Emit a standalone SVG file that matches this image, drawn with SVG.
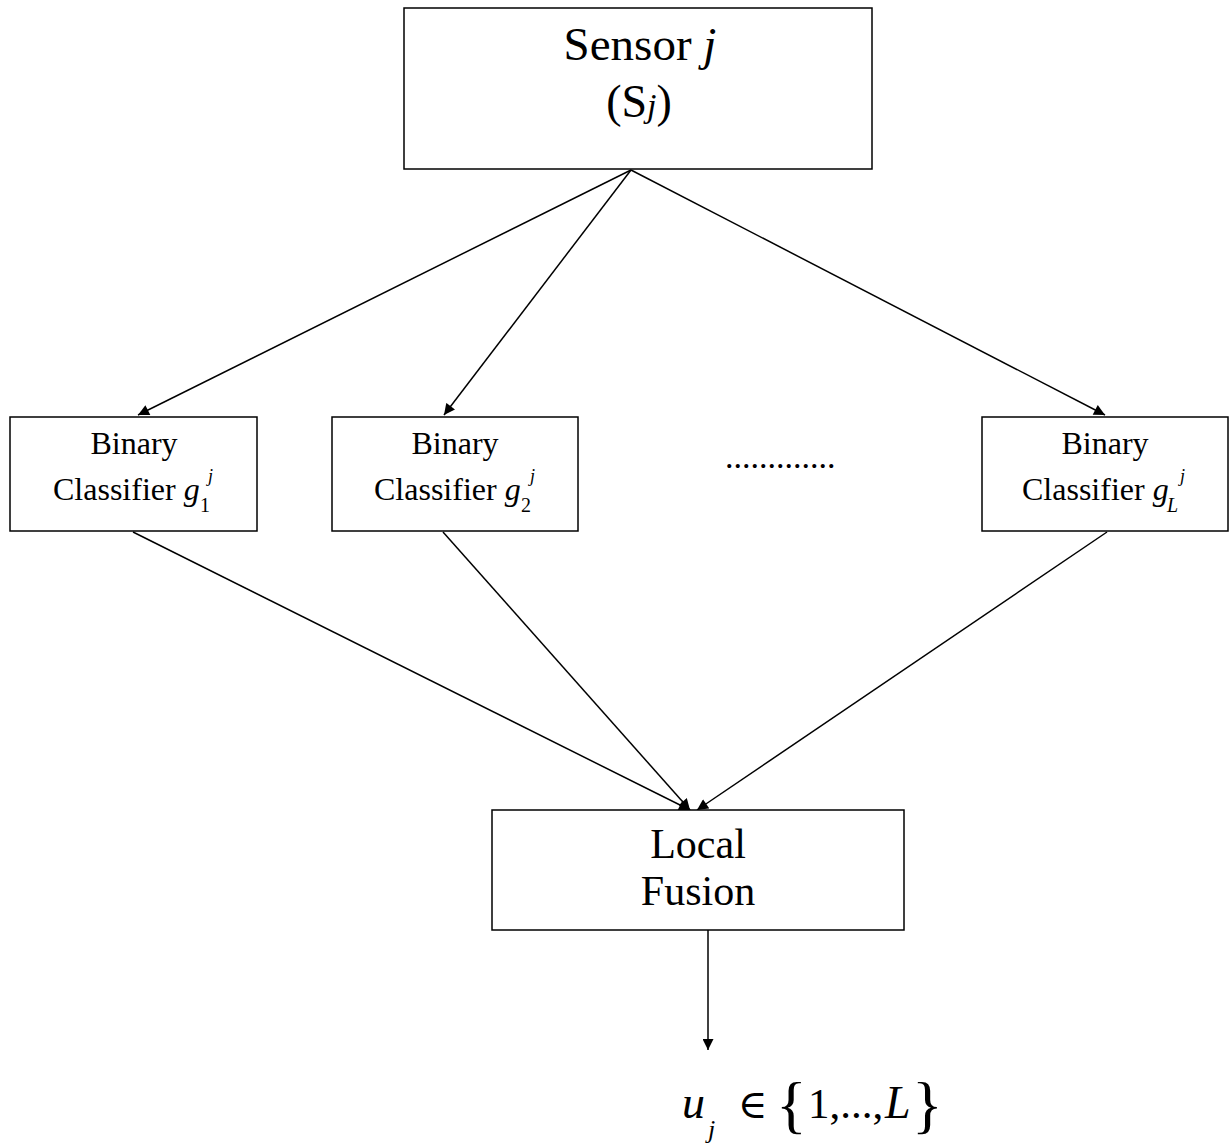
<svg xmlns="http://www.w3.org/2000/svg" width="1232" height="1147" viewBox="0 0 1232 1147">
<style>
.box{fill:#fff;stroke:#000;stroke-width:1.5}
.t{font-family:"Liberation Serif","Times New Roman","DejaVu Serif",serif;fill:#000}
.c{stroke:#000;stroke-width:1.5;fill:none;marker-end:url(#ah)}
</style>
<defs>
<marker id="ah" viewBox="0 0 10 10" refX="10" refY="5" markerWidth="12" markerHeight="11" markerUnits="userSpaceOnUse" orient="auto">
<path d="M0,0 L10,5 L0,10 z" fill="#000"/>
</marker>
</defs>
<rect width="1232" height="1147" fill="#fff"/>
<g id="connectors">
<line class="c" x1="631" y1="170" x2="138" y2="415"/>
<line class="c" x1="631" y1="170" x2="444" y2="415"/>
<line class="c" x1="631" y1="170" x2="1105" y2="415"/>
<line class="c" x1="133" y1="532" x2="690" y2="810"/>
<line class="c" x1="443" y1="532" x2="690" y2="810"/>
<line class="c" x1="1107" y1="532" x2="697" y2="810"/>
<line class="c" x1="708" y1="930" x2="708" y2="1050"/>
</g>
<g id="sensor">
<rect class="box" x="404" y="8" width="468" height="161"/>
<text class="t" x="640" y="60" font-size="47" text-anchor="middle">Sensor <tspan font-style="italic">j</tspan></text>
<text class="t" x="639" y="117" font-size="46" text-anchor="middle">(S<tspan font-style="italic" font-size="34">j</tspan>)</text>
</g>
<g id="classifier1">
<rect class="box" x="10" y="417" width="247" height="114"/>
<text class="t" x="134" y="454" font-size="32" text-anchor="middle">Binary</text>
<text class="t" x="53" y="500" font-size="32">Classifier <tspan font-style="italic">g</tspan></text>
<text class="t" x="200" y="512" font-size="20">1</text>
<text class="t" x="208" y="482" font-size="18" font-style="italic">j</text>
</g>
<g id="classifier2">
<rect class="box" x="332" y="417" width="246" height="114"/>
<text class="t" x="455" y="454" font-size="32" text-anchor="middle">Binary</text>
<text class="t" x="374" y="500" font-size="32">Classifier <tspan font-style="italic">g</tspan></text>
<text class="t" x="521" y="512" font-size="20">2</text>
<text class="t" x="530" y="482" font-size="18" font-style="italic">j</text>
</g>
<text class="t" x="725" y="468" font-size="34">.............</text>
<g id="classifierL">
<rect class="box" x="982" y="417" width="246" height="114"/>
<text class="t" x="1105" y="454" font-size="32" text-anchor="middle">Binary</text>
<text class="t" x="1022" y="500" font-size="32">Classifier <tspan font-style="italic">g</tspan></text>
<text class="t" x="1167" y="512" font-size="20" font-style="italic">L</text>
<text class="t" x="1180" y="482" font-size="18" font-style="italic">j</text>
</g>
<g id="fusion">
<rect class="box" x="492" y="810" width="412" height="120"/>
<text class="t" x="698" y="858" font-size="42" text-anchor="middle">Local</text>
<text class="t" x="698" y="905" font-size="42" text-anchor="middle">Fusion</text>
</g>
<g id="output">
<text class="t" x="682" y="1118" font-size="46" font-style="italic">u</text>
<text class="t" x="708" y="1138" font-size="26" font-style="italic">j</text>
<text class="t" x="738" y="1118" font-size="40">∈</text>
<text class="t" x="776" y="1126" font-size="64">{</text>
<text class="t" x="808" y="1118" font-size="43">1,...,</text>
<text class="t" x="885" y="1118" font-size="46" font-style="italic">L</text>
<text class="t" x="912" y="1126" font-size="64">}</text>
</g>
</svg>
